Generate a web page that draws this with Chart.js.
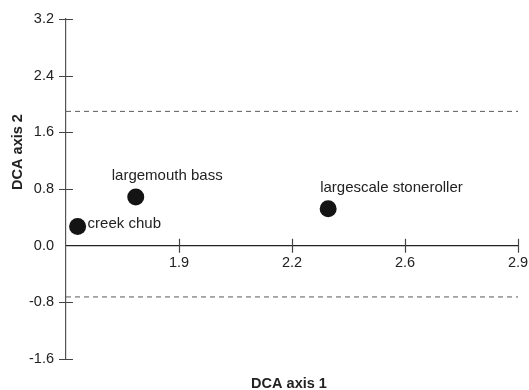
<!DOCTYPE html>
<html>
<head>
<meta charset="utf-8">
<script src="https://cdn.jsdelivr.net/npm/chart.js@4.4.1/dist/chart.umd.min.js"></script>
<style>
  html, body { margin: 0; padding: 0; background: #fff; }
  #wrap { width: 529px; height: 390px; position: relative; }
</style>
</head>
<body>
<div id="wrap"><canvas id="dcaChart"></canvas></div>
<script>
// Especies y sus puntuaciones DCA
var species = ['creek chub', 'largemouth bass', 'largescale stoneroller'];
var axis1Scores = [1.536, 1.716, 2.312];
var axis2Scores = [0.272, 0.687, 0.522];

// Lineas de corte discontinuas
var cutoffValues = [1.896, -0.724];

// Marcas de los ejes
var xTickValues = [1.85, 2.2, 2.55, 2.9];
var xTickLabels = ['1.9', '2.2', '2.6', '2.9'];
var yTickValues = [-1.6, -0.8, 0.0, 0.8, 1.6, 2.4, 3.2];
var yTickLabels = ['-1.6', '-0.8', '0.0', '0.8', '1.6', '2.4', '3.2'];

var xMin = 1.5, xMax = 2.9;

// Desplazamiento de cada etiqueta respecto a su punto (px)
var labelOffsets = [[10, -3], [-24, -21], [-8, -21]];

var FONT = '"Liberation Sans", Arial, sans-serif';

var points = species.map(function(name, i) {
    return { x: axis1Scores[i], y: axis2Scores[i] };
});

var datasets = [{
    type: 'scatter',
    data: points,
    pointRadius: 8.5,
    pointHoverRadius: 8.5,
    backgroundColor: '#141414',
    borderWidth: 0,
    clip: false
}];
cutoffValues.forEach(function(v) {
    datasets.push({
        type: 'line',
        data: [{ x: xMin, y: v }, { x: xMax, y: v }],
        borderColor: '#5a5a5a',
        borderWidth: 1,
        borderDash: [5, 4],
        pointRadius: 0,
        fill: false
    });
});

// Marcas que cruzan los ejes, etiquetas de puntos y titulos
var extras = {
    id: 'extras',
    afterDraw: function(chart) {
        var ctx = chart.ctx;
        var xs = chart.scales.x, ys = chart.scales.y;
        var x0 = xs.left, y0 = ys.getPixelForValue(0);
        ctx.save();
        ctx.strokeStyle = '#444';
        ctx.lineWidth = 1.2;
        ctx.beginPath();
        yTickValues.forEach(function(v) {
            if (v === 0) return;
            var py = Math.round(ys.getPixelForValue(v)) + 0.5;
            ctx.moveTo(x0 - 7, py);
            ctx.lineTo(x0 + 7, py);
        });
        xTickValues.forEach(function(v) {
            var px = Math.round(xs.getPixelForValue(v)) + 0.5;
            ctx.moveTo(px, y0 - 7);
            ctx.lineTo(px, y0 + 7);
        });
        ctx.stroke();

        ctx.fillStyle = '#222';
        ctx.font = '15px ' + FONT;
        ctx.textAlign = 'left';
        ctx.textBaseline = 'middle';
        var meta = chart.getDatasetMeta(0);
        species.forEach(function(name, i) {
            var el = meta.data[i];
            ctx.fillText(name, el.x + labelOffsets[i][0], el.y + labelOffsets[i][1]);
        });

        ctx.font = 'bold 14.5px ' + FONT;
        ctx.textAlign = 'center';
        ctx.fillText('DCA axis 1', 289, 384);
        ctx.translate(18, 152);
        ctx.rotate(-Math.PI / 2);
        ctx.fillText('DCA axis 2', 0, 0);
        ctx.restore();
    }
};

var chart = new Chart(document.getElementById('dcaChart').getContext('2d'), {
    data: { datasets: datasets },
    options: {
        responsive: true,
        maintainAspectRatio: false,
        animation: false,
        events: [],
        layout: { padding: { left: 0, top: 19, right: 11, bottom: 31 } },
        plugins: { legend: { display: false }, tooltip: { enabled: false } },
        scales: {
            x: {
                type: 'linear',
                min: xMin,
                max: xMax,
                position: { y: 0 },
                afterFit: function(scale) {
                    scale.height = 0;
                    scale.paddingLeft = 0;
                    scale.paddingRight = 0;
                },
                afterBuildTicks: function(scale) {
                    scale.ticks = xTickValues.map(function(v) { return { value: v }; });
                },
                ticks: {
                    padding: 9,
                    color: '#222',
                    font: { size: 14.5, family: FONT },
                    maxRotation: 0,
                    autoSkip: false,
                    callback: function(value, index) { return xTickLabels[index]; }
                },
                grid: { drawOnChartArea: false, drawTicks: false },
                border: { display: true, color: '#222', width: 1.2 }
            },
            y: {
                type: 'linear',
                min: -1.6,
                max: 3.2,
                afterFit: function(scale) {
                    scale.width = 66;
                    scale.paddingTop = 0;
                    scale.paddingBottom = 0;
                },
                afterBuildTicks: function(scale) {
                    scale.ticks = yTickValues.map(function(v) { return { value: v }; });
                },
                ticks: {
                    padding: 12,
                    color: '#222',
                    font: { size: 14.5, family: FONT },
                    autoSkip: false,
                    callback: function(value, index) { return yTickLabels[index]; }
                },
                grid: { drawOnChartArea: false, drawTicks: false },
                border: { display: true, color: '#555', width: 1.2 }
            }
        }
    },
    plugins: [extras]
});
</script>
</body>
</html>
